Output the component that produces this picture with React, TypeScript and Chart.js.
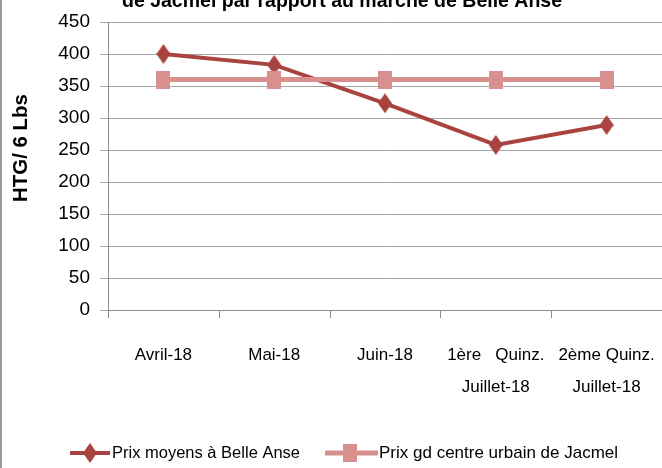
import React, { useEffect, useRef } from "react";
import { Chart, registerables } from "chart.js";

Chart.register(...registerables);

const categories: (string | string[])[] = [
  "Avril-18",
  "Mai-18",
  "Juin-18",
  ["1ère   Quinz.", "Juillet-18"],
  ["2ème Quinz.", "Juillet-18"],
];
const prixBelleAnse = [400, 383, 323, 258, 289];
const prixJacmel = [360, 360, 360, 360, 360];
const yMin = 0;
const yMax = 450;
const yStep = 50;

const titleText = "de Jacmel par rapport au marché de Belle Anse";
const yTitle = "HTG/ 6 Lbs";
const legendLabels = ["Prix moyens à Belle Anse", "Prix gd centre urbain de Jacmel"];

const DARK = "#A9433F";
const PINK = "#D7908E";
const AXIS = "#8c8c8c";
const FONT = "'Liberation Sans', Arial, sans-serif";

function makeDiamond(w: number, h: number, color: string) {
  const c = document.createElement("canvas");
  c.width = w;
  c.height = h;
  const ctx = c.getContext("2d")!;
  ctx.fillStyle = color;
  ctx.beginPath();
  ctx.moveTo(w / 2, 0);
  ctx.lineTo(w, h / 2);
  ctx.lineTo(w / 2, h);
  ctx.lineTo(0, h / 2);
  ctx.closePath();
  ctx.fill();
  return c;
}

function makeRect(w: number, h: number, color: string) {
  const c = document.createElement("canvas");
  c.width = w;
  c.height = h;
  const ctx = c.getContext("2d")!;
  ctx.fillStyle = color;
  ctx.fillRect(0, 0, w, h);
  return c;
}

function fitFont(ctx: CanvasRenderingContext2D, text: string, weight: string, target: number) {
  ctx.font = `${weight} 20px ${FONT}`;
  const w = ctx.measureText(text).width;
  const size = (20 * target) / w;
  ctx.font = `${weight} ${size.toFixed(2)}px ${FONT}`;
}

export default function App() {
  const ref = useRef<HTMLCanvasElement>(null);

  useEffect(() => {
    const diamond = makeDiamond(14, 20, DARK);
    const square = makeRect(14, 18, PINK);

    const overlay = {
      id: "overlay",
      afterDraw(chart: any) {
        const ctx = chart.ctx as CanvasRenderingContext2D;
        ctx.save();
        // x-axis tick marks at category boundaries
        const xs = chart.scales.x;
        const n = categories.length;
        ctx.strokeStyle = AXIS;
        ctx.lineWidth = 1;
        for (let i = 0; i <= n; i++) {
          const px = Math.round(xs.left + (i * xs.width) / n) + 0.5;
          ctx.beginPath();
          ctx.moveTo(px, xs.top);
          ctx.lineTo(px, xs.top + 8);
          ctx.stroke();
        }
        // left border
        ctx.fillStyle = "#9a9a9a";
        ctx.fillRect(0, 0, 2, chart.height);
        // title (cut at top)
        ctx.fillStyle = "#000";
        fitFont(ctx, titleText, "bold", 440);
        ctx.textAlign = "center";
        ctx.textBaseline = "alphabetic";
        ctx.fillText(titleText, 342, 7);
        // y title
        ctx.save();
        ctx.translate(21, 148);
        ctx.rotate(-Math.PI / 2);
        fitFont(ctx, yTitle, "bold", 108);
        ctx.textAlign = "center";
        ctx.textBaseline = "middle";
        ctx.fillText(yTitle, 0, 0);
        ctx.restore();
        // legend
        const ly = 453;
        ctx.lineWidth = 4;
        ctx.strokeStyle = DARK;
        ctx.beginPath();
        ctx.moveTo(70, ly);
        ctx.lineTo(110, ly);
        ctx.stroke();
        ctx.drawImage(diamond, 90 - 7, ly - 10);
        ctx.lineWidth = 5;
        ctx.strokeStyle = PINK;
        ctx.beginPath();
        ctx.moveTo(325, ly);
        ctx.lineTo(378, ly);
        ctx.stroke();
        ctx.drawImage(square, 350 - 7, ly - 9);
        ctx.fillStyle = "#000";
        ctx.textAlign = "left";
        ctx.textBaseline = "middle";
        fitFont(ctx, legendLabels[0], "normal", 188);
        ctx.fillText(legendLabels[0], 112, ly);
        fitFont(ctx, legendLabels[1], "normal", 239);
        ctx.fillText(legendLabels[1], 379, ly);
        ctx.restore();
      },
    };

    const chart = new Chart(ref.current!, {
      type: "line",
      data: {
        labels: categories,
        datasets: [
          {
            label: legendLabels[1],
            data: prixJacmel,
            borderColor: PINK,
            backgroundColor: PINK,
            borderWidth: 5,
            pointStyle: square as any,
            pointRadius: 9,
            tension: 0,
          },
          {
            label: legendLabels[0],
            data: prixBelleAnse,
            borderColor: DARK,
            backgroundColor: DARK,
            borderWidth: 4,
            pointStyle: diamond as any,
            pointRadius: 9,
            tension: 0,
          },
        ],
      },
      options: {
        animation: false,
        responsive: false,
        maintainAspectRatio: false,
        layout: { autoPadding: false, padding: { top: 22, left: 0, right: 0, bottom: 0 } },
        plugins: {
          legend: { display: false },
          tooltip: { enabled: false },
          title: { display: false },
        },
        scales: {
          x: {
            type: "category",
            offset: true,
            grid: {
              offset: true,
              drawOnChartArea: false,
              drawTicks: true,
              tickLength: 29,
              tickColor: "rgba(0,0,0,0)",
              color: AXIS,
            },
            border: { color: AXIS },
            ticks: {
              color: "#000",
              font: { family: FONT, size: 17, lineHeight: 1.9 },
              padding: 0,
              maxRotation: 0,
              autoSkip: false,
            },
            afterFit(s: any) {
              s.height = 158;
            },
          },
          y: {
            min: yMin,
            max: yMax,
            grid: { color: "#a6a6a6", tickLength: 8, drawTicks: true },
            border: { color: AXIS },
            ticks: {
              stepSize: yStep,
              color: "#000",
              font: { family: FONT, size: 19 },
              padding: 10,
            },
            afterFit(s: any) {
              s.width = 108;
            },
          },
        },
      },
      plugins: [overlay],
    });
    return () => chart.destroy();
  }, []);

  return (
    <div style={{ position: "absolute", left: 0, top: 0, width: 662, height: 468, background: "#fff" }}>
      <canvas ref={ref} width={662} height={468} style={{ display: "block" }} />
    </div>
  );
}
